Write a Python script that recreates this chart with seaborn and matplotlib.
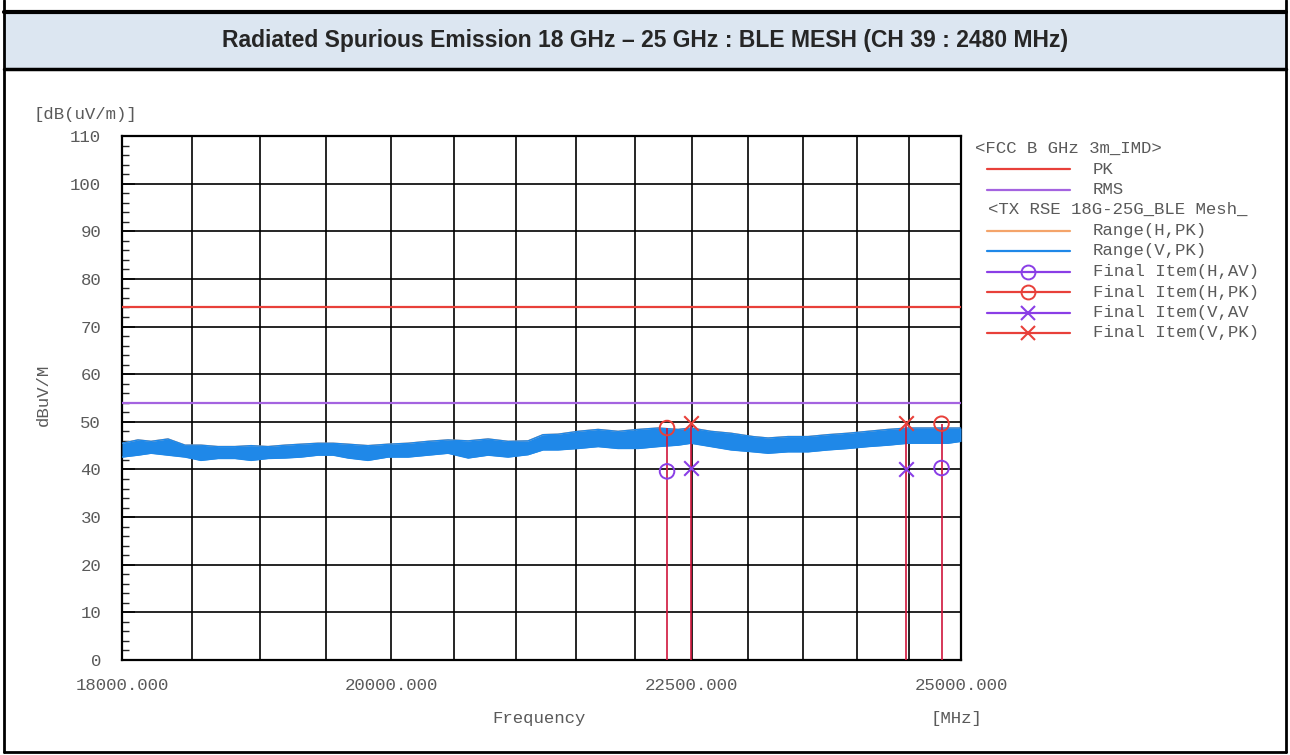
import numpy as np
import pandas as pd
import matplotlib
matplotlib.use('Agg')
import matplotlib.pyplot as plt
from matplotlib.lines import Line2D
from matplotlib.patches import Rectangle
import matplotlib.ticker as mticker
import seaborn as sns

sns.set_style('white')
plt.rcParams['font.family'] = ['Liberation Mono', 'DejaVu Sans Mono']

# ---- data ----
trace_freq = [18000, 18113, 18206, 18327, 18450, 18565, 18689, 18814, 18933, 19059,
              19186, 19307, 19436, 19551, 19665, 19820, 19976, 20133, 20291, 20451,
              20612, 20774, 20937, 21102, 21226, 21351, 21519, 21688, 21859, 22031,
              22204, 22378, 22492, 22669, 22847, 23045, 23181, 23362, 23546, 23731,
              23918, 24106, 24295, 24486, 24679, 24873, 25000]
trace_hi = [45.5, 46.2, 45.9, 46.4, 45.1, 45.1, 44.8, 44.8, 45.0, 44.8,
            45.1, 45.3, 45.5, 45.5, 45.3, 45.0, 45.3, 45.5, 45.9, 46.2,
            46.0, 46.4, 45.9, 46.0, 47.3, 47.4, 48.0, 48.4, 48.0, 48.4,
            48.7, 48.4, 48.7, 48.0, 47.6, 46.9, 46.6, 46.9, 46.9, 47.3,
            47.6, 48.0, 48.4, 48.7, 48.7, 48.7, 48.7]
trace_lo = [42.6, 43.0, 43.4, 43.0, 42.6, 41.9, 42.3, 42.3, 41.9, 42.3,
            42.4, 42.6, 43.0, 43.0, 42.4, 41.9, 42.6, 42.6, 43.0, 43.4,
            42.4, 43.0, 42.6, 43.1, 44.1, 44.1, 44.4, 44.8, 44.4, 44.4,
            44.8, 45.1, 45.5, 44.8, 44.1, 43.7, 43.4, 43.7, 43.7, 44.1,
            44.4, 44.8, 45.1, 45.5, 45.5, 45.5, 45.9]

limit_pk = 74
limit_rms = 54

h_freq = [22282, 24810]
h_pk = [48.7, 49.6]
h_av = [39.6, 40.3]
v_freq = [22494, 24467]
v_pk = [49.7, 49.8]
v_av = [40.3, 40.1]

x_ticks = [18000, 20000, 22500, 25000]
x_grid = list(range(18000, 25001, 500))
y_ticks = list(range(0, 111, 10))

legend_rows = ['PK', 'RMS', None, 'Range(H,PK)', 'Range(V,PK)',
               'Final Item(H,AV)', 'Final Item(H,PK)', 'Final Item(V,AV', 'Final Item(V,PK)']

c_pk = '#e8403a'
c_rms = '#a463e0'
c_h = '#f4a46a'
c_v = '#1f88e8'
c_av = '#8a3ee6'
c_stem = '#d0153c'
c_txt = '#5a5a5a'
fs = 12.5

trace = pd.DataFrame({'freq': trace_freq, 'hi': trace_hi, 'lo': trace_lo})

fig = plt.figure(figsize=(12.9, 7.55), dpi=100)
W, H = 1290, 755

# outer frame + title band
fig.add_artist(Rectangle((4 / W, 1 - 69 / H), 1282 / W, 57 / H, transform=fig.transFigure,
                         facecolor='#dce6f1', edgecolor='none', zorder=0))
for (x0, y0, x1, y1, lw) in [(4, 12, 1286, 12, 3), (4, 69, 1286, 69, 2.5), (4, 0, 4, 752, 2),
                             (1286, 0, 1286, 752, 2), (4, 752, 1286, 752, 2)]:
    fig.add_artist(Line2D([x0 / W, x1 / W], [1 - y0 / H, 1 - y1 / H], transform=fig.transFigure,
                          color='black', lw=lw))
fig.text(645 / W, 1 - 40 / H, 'Radiated Spurious Emission 18 GHz \u2013 25 GHz : BLE MESH (CH 39 : 2480 MHz)',
         ha='center', va='center', fontsize=16.5, fontweight='bold',
         family=['Liberation Sans Narrow', 'Liberation Sans', 'DejaVu Sans'])

ax = fig.add_axes([122 / W, 1 - 660 / H, (961 - 122) / W, (660 - 136) / H])
ax.set_xscale('log')

# grid
for g in x_grid:
    ax.axvline(g, color='black', lw=1.2, zorder=1)
for g in y_ticks:
    ax.axhline(g, color='black', lw=1.2, zorder=1)

# traces
sns.lineplot(data=trace, x='freq', y='hi', ax=ax, color=c_h, lw=1, zorder=2)
ax.fill_between(trace['freq'], trace['lo'], trace['hi'], color=c_v, lw=0, zorder=3)
sns.lineplot(data=trace, x='freq', y='hi', ax=ax, color=c_v, lw=1.0, zorder=3)
sns.lineplot(data=trace, x='freq', y='lo', ax=ax, color=c_v, lw=1.0, zorder=3)

# limits
sns.lineplot(x=[18000, 25000], y=[limit_pk, limit_pk], ax=ax, color=c_pk, lw=1.6, zorder=4)
sns.lineplot(x=[18000, 25000], y=[limit_rms, limit_rms], ax=ax, color=c_rms, lw=1.6, zorder=4)

# final items
ax.vlines(h_freq, 0, h_pk, color=c_stem, lw=1.2, zorder=5)
ax.vlines(v_freq, 0, v_pk, color=c_stem, lw=1.2, zorder=5)
sns.scatterplot(x=h_freq, y=h_av, ax=ax, marker='o', s=110, facecolor='none', edgecolor=c_av, linewidth=1.4, zorder=6)
sns.scatterplot(x=h_freq, y=h_pk, ax=ax, marker='o', s=110, facecolor='none', edgecolor=c_pk, linewidth=1.4, zorder=6)
sns.scatterplot(x=v_freq, y=v_av, ax=ax, marker='x', s=110, color=c_av, linewidth=1.5, zorder=6)
sns.scatterplot(x=v_freq, y=v_pk, ax=ax, marker='x', s=110, color=c_pk, linewidth=1.5, zorder=6)

ax.set_xlim(18000, 25000)
ax.set_ylim(0, 110)
ax.xaxis.set_major_locator(mticker.FixedLocator(x_ticks))
ax.xaxis.set_minor_locator(mticker.NullLocator())
ax.xaxis.set_major_formatter(mticker.FuncFormatter(lambda v, p: f'{v:.3f}'))
ax.set_yticks(y_ticks)
ax.yaxis.set_minor_locator(mticker.MultipleLocator(2))
ax.tick_params(axis='x', which='both', length=0, pad=13, labelsize=fs, labelcolor=c_txt)
ax.tick_params(axis='y', which='major', direction='in', length=9, width=1.2, pad=15, labelsize=fs, labelcolor=c_txt, left=True)
ax.tick_params(axis='y', which='minor', direction='in', length=5, width=1.0, left=True)
ax.set_xlabel('')
ax.set_ylabel('')
for s in ax.spines.values():
    s.set_color('black')
    s.set_linewidth(1.6)

fig.text(85 / W, 1 - 115 / H, '[dB(uV/m)]', ha='center', va='center', fontsize=fs, color=c_txt)
fig.text(43 / W, 1 - 395 / H, 'dBuV/M', ha='center', va='center', fontsize=fs, color=c_txt, rotation=90)
fig.text(539 / W, 1 - 718 / H, 'Frequency', ha='center', va='center', fontsize=fs, color=c_txt)
fig.text(956 / W, 1 - 718 / H, '[MHz]', ha='center', va='center', fontsize=fs, color=c_txt)

# legend drawn at the right
fig.text(975 / W, 1 - 148 / H, '<FCC B GHz 3m_IMD>', ha='left', va='center', fontsize=fs, color=c_txt)
fig.text(988 / W, 1 - 209 / H, '<TX RSE 18G-25G_BLE Mesh_', ha='left', va='center', fontsize=fs, color=c_txt)
keys = [(c_pk, None), (c_rms, None), None, (c_h, None), (c_v, None),
        (c_av, 'o'), (c_pk, 'o'), (c_av, 'x'), (c_pk, 'x')]
for i, (lab, key) in enumerate(zip(legend_rows, keys)):
    if lab is None:
        continue
    yy = 1 - (169 + i * 20.5) / H
    col, mk = key
    fig.add_artist(Line2D([987 / W, 1070 / W], [yy, yy], transform=fig.transFigure, color=col, lw=1.6))
    if mk == 'o':
        fig.add_artist(Line2D([1028 / W], [yy], transform=fig.transFigure, marker='o', ms=10,
                              mfc='none', mec=col, mew=1.4, lw=0))
    elif mk == 'x':
        fig.add_artist(Line2D([1028 / W], [yy], transform=fig.transFigure, marker='x', ms=10,
                              color=col, mew=1.5, lw=0))
    fig.text(1093 / W, yy, lab, ha='left', va='center', fontsize=fs, color=c_txt)

plt.savefig('out.png', dpi=100)
